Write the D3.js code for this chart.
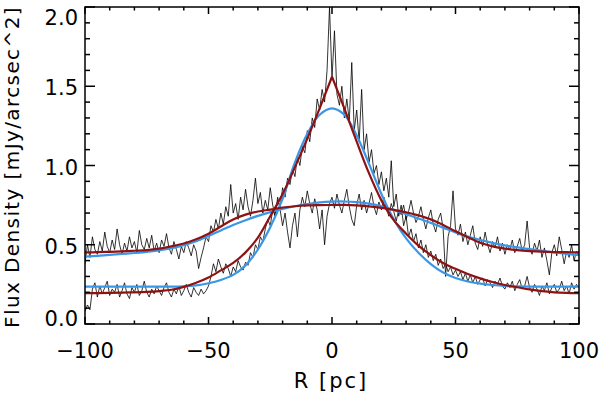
<!DOCTYPE html>
<html><head><meta charset="utf-8">
<script src="https://cdn.jsdelivr.net/npm/d3@7/dist/d3.min.js"></script>
<style>
html,body{margin:0;padding:0;background:#fff;}
svg{display:block;}
text{font-family:"DejaVu Sans",sans-serif;fill:#000;}
</style></head>
<body>
<svg id="chart" width="600" height="396"></svg>
<script>
// ---------- DATA ----------
const xTicksMajor = [-100, -50, 0, 50, 100];
const xTickLabels = ["\u2212100", "\u221250", "0", "50", "100"];
const yTicksMajor = [0.0, 0.5, 1.0, 1.5, 2.0];
const yTickLabels = ["0.0", "0.5", "1.0", "1.5", "2.0"];
const xLabel = "R [pc]";
const yLabel = "Flux Density [mJy/arcsec^2]";

// observed profiles, R = -100 ... 100 step 1 pc
const obsR = d3.range(-100, 101, 1);
const obsNarrow = [
0.08,0.12,0.09,0.22,0.26,0.17,0.24,0.19,0.23,0.27,
0.18,0.22,0.20,0.25,0.17,0.21,0.26,0.19,0.16,0.23,
0.20,0.25,0.18,0.21,0.27,0.20,0.17,0.22,0.19,0.24,
0.21,0.18,0.23,0.26,0.20,0.17,0.22,0.19,0.24,0.18,
0.21,0.25,0.20,0.17,0.23,0.20,0.18,0.22,0.19,0.21,
0.24,0.30,0.38,0.33,0.41,0.36,0.32,0.38,0.35,0.30,
0.36,0.33,0.40,0.36,0.34,0.39,0.37,0.45,0.42,0.50,
0.47,0.55,0.52,0.60,0.66,0.62,0.72,0.68,0.78,0.74,
0.86,0.80,0.92,0.88,0.98,0.93,1.06,1.00,1.12,1.08,
1.22,1.15,1.30,1.24,1.42,1.35,1.48,1.40,1.60,2.00,
1.55,
1.85,1.45,1.38,1.50,1.30,1.42,1.28,1.65,1.22,1.35,
1.15,1.48,1.10,1.20,1.02,1.10,0.95,1.00,0.88,0.96,
0.84,0.92,0.80,1.03,0.74,0.82,0.68,0.75,0.62,0.68,
0.55,0.60,0.52,0.57,0.48,0.53,0.45,0.50,0.42,0.46,
0.40,0.44,0.37,0.41,0.35,0.38,0.33,0.36,0.31,0.34,
0.30,0.33,0.28,0.32,0.27,0.31,0.26,0.30,0.25,0.28,
0.29,0.24,0.28,0.26,0.23,0.27,0.25,0.29,0.24,0.22,
0.26,0.23,0.27,0.21,0.25,0.28,0.22,0.24,0.30,0.23,
0.20,0.25,0.22,0.18,0.24,0.21,0.26,0.19,0.23,0.25,
0.20,0.22,0.27,0.21,0.24,0.19,0.26,0.22,0.25,0.23
];
const obsWide = [
0.38,0.50,0.42,0.55,0.47,0.44,0.52,0.46,0.58,0.49,
0.45,0.53,0.47,0.60,0.50,0.44,0.51,0.46,0.55,0.48,
0.52,0.45,0.59,0.50,0.47,0.54,0.48,0.56,0.46,0.51,
0.45,0.53,0.49,0.57,0.48,0.44,0.52,0.47,0.41,0.49,
0.45,0.52,0.48,0.43,0.50,0.46,0.35,0.42,0.48,0.55,
0.52,0.62,0.58,0.66,0.60,0.70,0.63,0.74,0.68,0.88,
0.70,0.76,0.66,0.80,0.72,0.85,0.74,0.68,0.78,0.92,
0.76,0.83,0.70,0.78,0.72,0.86,0.75,0.68,0.80,0.72,
0.62,0.70,0.58,0.48,0.62,0.70,0.55,0.72,0.80,0.74,
0.84,0.76,0.70,0.79,0.72,0.60,0.72,0.50,0.68,0.76,
0.80,
0.73,0.82,0.75,0.70,0.78,0.85,0.74,0.66,0.62,0.75,
0.82,0.72,0.78,0.70,0.76,0.83,0.74,0.69,0.77,0.72,
0.80,0.74,0.68,0.76,0.71,0.65,0.72,0.69,0.75,0.66,
0.71,0.78,0.70,0.64,0.68,0.74,0.66,0.60,0.67,0.72,
0.63,0.58,0.66,0.70,0.60,0.30,0.55,0.62,0.84,0.60,
0.56,0.63,0.52,0.58,0.50,0.56,0.62,0.51,0.47,0.55,
0.49,0.58,0.50,0.45,0.52,0.48,0.55,0.46,0.51,0.44,
0.50,0.47,0.53,0.45,0.49,0.54,0.46,0.50,0.65,0.48,
0.44,0.51,0.46,0.53,0.42,0.48,0.40,0.31,0.45,0.50,
0.43,0.55,0.47,0.38,0.46,0.42,0.50,0.40,0.46,0.43
];

// fitted profiles, R = -100 ... 100 step 5 pc
const fitR = d3.range(-100, 101, 5);
const wideRed = [0.452,0.453,0.455,0.458,0.462,0.466,0.475,0.490,0.508,0.535,
  0.570,0.615,0.660,0.690,0.710,0.722,0.735,0.743,0.748,0.750,0.751,
  0.751,0.748,0.742,0.733,0.720,0.705,0.685,0.660,0.625,0.585,
  0.548,0.513,0.490,0.475,0.466,0.460,0.456,0.454,0.453,0.452];
const wideBlue = [0.425,0.430,0.436,0.442,0.448,0.455,0.465,0.478,0.497,0.522,
  0.555,0.590,0.625,0.655,0.682,0.706,0.726,0.743,0.757,0.767,0.772,
  0.773,0.769,0.760,0.743,0.720,0.693,0.666,0.638,0.608,0.578,
  0.551,0.530,0.512,0.496,0.483,0.472,0.462,0.452,0.443,0.435];
const narrowRed = [0.194,0.195,0.196,0.198,0.200,0.203,0.208,0.216,0.234,0.260,
  0.293,0.338,0.385,0.452,0.545,0.680,0.820,0.990,1.170,1.360,1.560,
  1.360,1.150,0.950,0.780,0.655,0.570,0.495,0.435,0.385,0.348,
  0.315,0.288,0.265,0.246,0.232,0.218,0.207,0.200,0.196,0.194];
const narrowBlue = [0.236,0.236,0.236,0.236,0.236,0.236,0.236,0.236,0.238,0.244,
  0.257,0.278,0.310,0.370,0.470,0.610,0.790,1.020,1.200,1.320,1.360,
  1.320,1.190,1.010,0.820,0.660,0.540,0.450,0.378,0.325,0.290,
  0.268,0.255,0.246,0.240,0.237,0.236,0.236,0.236,0.236,0.236];

// ---------- DRAW ----------
const svg = d3.select("#chart");
const L = 85, R = 579, T = 7, B = 324;
const x = d3.scaleLinear().domain([-100, 100]).range([L, R]);
const y = d3.scaleLinear().domain([0, 2]).range([B, T]);

svg.append("defs").append("clipPath").attr("id", "clip")
  .append("rect").attr("x", L).attr("y", T).attr("width", R - L).attr("height", B - T);

const plot = svg.append("g").attr("clip-path", "url(#clip)");

const lineObs = d3.line().x((d, i) => x(obsR[i])).y(d => y(d));
plot.append("path").attr("d", lineObs(obsWide))
  .attr("fill", "none").attr("stroke", "#000").attr("stroke-width", 0.8);
plot.append("path").attr("d", lineObs(obsNarrow))
  .attr("fill", "none").attr("stroke", "#000").attr("stroke-width", 0.8);

const lineFit = d3.line().x(d => x(d[0])).y(d => y(d[1])).curve(d3.curveCatmullRom.alpha(0.5));
function pairs(arr) { return arr.map((v, i) => [fitR[i], v]); }
const blueC = "#3a97e8", redC = "#8e1212";
function drawFit(arr, color, split) {
  const p = pairs(arr);
  const parts = split ? [p.filter(d => d[0] <= 0), p.filter(d => d[0] >= 0)] : [p];
  parts.forEach(pp => plot.append("path").attr("d", lineFit(pp))
    .attr("fill", "none").attr("stroke", color).attr("stroke-width", 2.2)
    .attr("stroke-linejoin", "round"));
}
drawFit(wideBlue, blueC, false);
drawFit(narrowBlue, blueC, false);
drawFit(wideRed, redC, false);
drawFit(narrowRed, redC, true);

// frame
const ax = svg.append("g").attr("stroke", "#000").attr("stroke-width", 1.5).attr("fill", "none");
ax.append("rect").attr("x", L).attr("y", T).attr("width", R - L).attr("height", B - T);

// x ticks (bottom & top)
const xMinor = d3.range(-100, 101, 10);
xMinor.forEach(v => {
  const major = xTicksMajor.includes(v);
  const len = major ? 7 : 3.5;
  ax.append("line").attr("x1", x(v)).attr("x2", x(v)).attr("y1", B).attr("y2", B - len);
  ax.append("line").attr("x1", x(v)).attr("x2", x(v)).attr("y1", T).attr("y2", T + len);
});
// y ticks (left & right)
const yMinor = d3.range(0, 21, 1).map(d => d / 10);
yMinor.forEach((v, i) => {
  const major = i % 5 === 0;
  const len = major ? 10 : 5;
  ax.append("line").attr("x1", L).attr("x2", L + len).attr("y1", y(v)).attr("y2", y(v));
  ax.append("line").attr("x1", R).attr("x2", R - len).attr("y1", y(v)).attr("y2", y(v));
});

// tick labels
svg.append("g").selectAll("text").data(xTicksMajor).join("text")
  .attr("x", d => x(d)).attr("y", B + 34)
  .attr("text-anchor", "middle").attr("font-size", 21)
  .text((d, i) => xTickLabels[i]);
svg.append("g").selectAll("text").data(yTicksMajor).join("text")
  .attr("x", L - 7)
  .attr("y", d => Math.min(Math.max(y(d) + 1.5, T + 10.5), B - 5.5) + 7.6)
  .attr("text-anchor", "end").attr("font-size", 21)
  .text((d, i) => yTickLabels[i]);

// axis titles
svg.append("text").attr("x", 331).attr("y", 388)
  .attr("text-anchor", "middle").attr("font-size", 21).attr("letter-spacing", 2)
  .text(xLabel);
svg.append("text").attr("transform", "translate(19,167) rotate(-90)")
  .attr("text-anchor", "middle").attr("font-size", 20).attr("letter-spacing", 1.4)
  .text(yLabel);
</script>
</body></html>
